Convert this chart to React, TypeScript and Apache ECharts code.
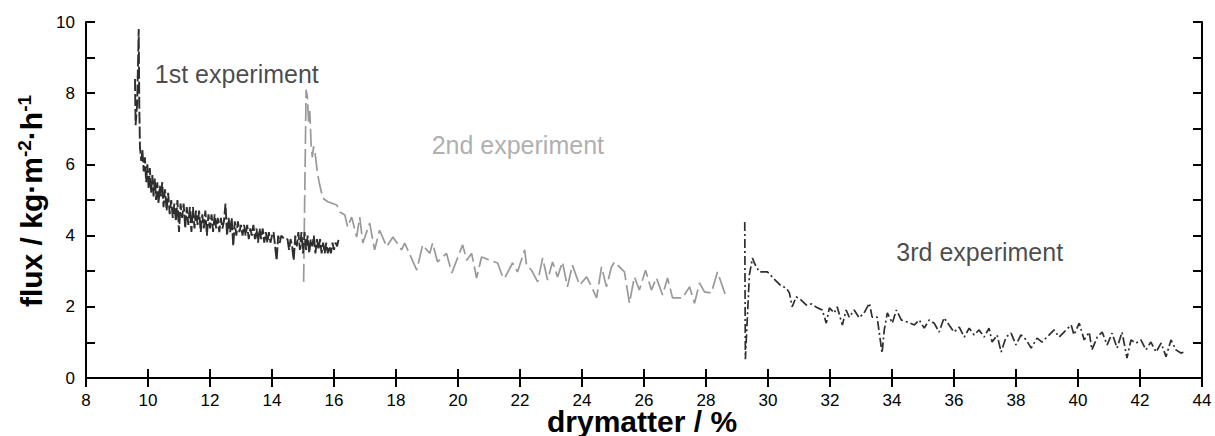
import React, { useEffect, useRef } from "react";
import * as echarts from "echarts";

const exp1: [number, number][] = [
  [9.58, 8.4], [9.6, 7.1], [9.65, 7.7], [9.68, 8.9], [9.7, 9.8], [9.72, 7.6], [9.74, 6.5],
  [9.78, 6.1], [9.82, 6.4], [9.86, 5.8], [9.9, 6.2], [9.94, 5.5], [9.98, 6.0], [10.02, 5.3],
  [10.06, 5.9], [10.1, 5.2], [10.14, 5.7], [10.18, 5.1], [10.22, 5.6], [10.26, 5.0], [10.3, 5.5],
  [10.34, 4.9], [10.38, 5.4], [10.42, 5.1], [10.46, 5.5], [10.5, 4.8], [10.55, 5.3], [10.6, 4.7],
  [10.65, 5.2], [10.7, 4.6], [10.75, 5.0], [10.8, 4.5], [10.85, 4.9], [10.9, 4.4], [10.95, 5.0],
  [11.0, 4.1], [11.05, 4.9], [11.1, 4.5], [11.15, 4.9], [11.2, 4.2], [11.25, 4.8], [11.3, 4.3],
  [11.35, 4.8], [11.4, 4.1], [11.45, 4.8], [11.5, 4.2], [11.55, 4.7], [11.6, 4.3], [11.65, 4.7],
  [11.7, 4.1], [11.75, 4.6], [11.8, 4.2], [11.85, 4.7], [11.9, 4.0], [11.95, 4.6], [12.0, 4.2],
  [12.05, 4.6], [12.1, 4.1], [12.15, 4.6], [12.2, 4.2], [12.25, 4.5], [12.3, 4.1], [12.35, 4.5],
  [12.4, 4.2], [12.45, 4.4], [12.5, 4.9], [12.55, 4.0], [12.6, 4.5], [12.65, 4.1], [12.7, 4.5],
  [12.75, 3.7], [12.8, 4.4], [12.85, 4.0], [12.9, 4.4], [12.95, 4.1], [13.0, 4.3], [13.05, 4.0],
  [13.1, 4.3], [13.15, 4.0], [13.2, 4.3], [13.25, 3.9], [13.3, 4.2], [13.35, 4.0], [13.4, 4.3],
  [13.45, 3.9], [13.5, 4.2], [13.55, 3.8], [13.6, 4.2], [13.65, 3.9], [13.7, 4.2], [13.75, 3.8],
  [13.8, 4.1], [13.85, 3.8], [13.9, 4.1], [13.95, 3.8], [14.0, 4.0], [14.05, 4.1], [14.1, 3.7],
  [14.15, 3.3], [14.2, 4.0], [14.25, 3.8], [14.3, 4.0], [14.4, 3.9], [14.5, 3.9], [14.55, 3.6],
  [14.6, 3.9], [14.65, 3.7], [14.7, 3.3], [14.75, 4.0], [14.8, 3.7], [14.85, 4.1], [14.9, 3.6],
  [14.95, 4.1], [15.0, 3.5], [15.05, 4.1], [15.1, 3.6], [15.15, 4.0], [15.2, 3.5], [15.25, 3.9],
  [15.3, 3.7], [15.35, 4.0], [15.4, 3.5], [15.45, 3.9], [15.5, 3.6], [15.55, 3.9], [15.6, 3.5],
  [15.65, 3.8], [15.7, 3.5], [15.75, 3.8], [15.8, 3.5], [15.85, 3.7], [15.9, 3.5], [15.95, 3.8],
  [16.0, 3.6], [16.05, 3.8], [16.1, 3.7], [16.15, 3.9], [16.2, 3.9],
];

const exp2: [number, number][] = [
  [15.02, 2.7], [15.1, 8.1], [15.14, 7.9], [15.18, 7.2], [15.22, 7.5], [15.26, 6.6], [15.3, 6.2],
  [15.34, 6.5], [15.38, 6.4], [15.46, 5.8], [15.52, 5.5], [15.64, 5.05], [15.8, 4.95],
  [16.09, 4.86], [16.19, 4.66], [16.35, 4.58], [16.44, 4.24], [16.57, 4.52], [16.73, 3.96],
  [16.83, 4.52], [16.93, 3.79], [17.15, 4.35], [17.31, 3.6], [17.47, 4.15], [17.7, 3.69],
  [17.9, 3.96], [18.18, 3.6], [18.28, 3.79], [18.67, 3.03], [18.86, 3.74], [19.09, 3.5],
  [19.18, 3.79], [19.34, 3.26], [19.63, 3.5], [19.8, 2.95], [20.15, 3.74], [20.28, 3.31],
  [20.44, 3.5], [20.6, 2.81], [20.76, 3.4], [21.02, 3.31], [21.28, 3.23], [21.44, 2.84],
  [21.5, 2.8], [21.76, 3.23], [21.92, 2.98], [22.15, 3.6], [22.21, 3.17], [22.37, 3.03],
  [22.57, 2.7], [22.73, 3.37], [22.89, 2.75], [23.05, 3.26], [23.21, 2.84], [23.37, 3.26],
  [23.53, 2.56], [23.69, 3.17], [23.92, 2.61], [24.15, 2.84], [24.31, 2.56], [24.47, 2.25],
  [24.63, 3.12], [24.79, 2.56], [24.95, 3.12], [25.05, 3.26], [25.37, 2.98], [25.53, 2.1],
  [25.69, 2.84], [25.85, 2.47], [26.05, 3.03], [26.24, 2.47], [26.4, 2.81], [26.6, 2.33],
  [26.76, 2.81], [26.92, 2.25], [27.24, 2.25], [27.47, 2.56], [27.63, 2.1], [27.79, 2.67],
  [27.95, 2.42], [28.17, 2.39], [28.37, 2.98], [28.66, 2.25],
];

const exp3: [number, number][] = [
  [29.25, 4.38], [29.27, 0.53], [29.4, 2.9], [29.5, 3.37], [29.56, 3.23], [29.72, 2.98],
  [29.98, 2.98], [30.2, 2.78], [30.43, 2.58], [30.59, 2.53], [30.69, 2.39], [30.78, 2.0],
  [30.91, 2.28], [31.07, 2.19], [31.24, 2.05], [31.4, 2.08], [31.6, 1.97], [31.75, 1.91],
  [31.88, 1.54], [31.98, 1.97], [32.14, 1.83], [32.23, 2.0], [32.4, 1.49], [32.52, 1.91],
  [32.62, 1.71], [32.78, 1.91], [32.94, 1.69], [33.1, 1.83], [33.27, 2.1], [33.36, 1.71],
  [33.52, 1.71], [33.68, 0.7], [33.75, 1.35], [33.85, 1.83], [34.01, 1.54], [34.14, 1.91],
  [34.3, 1.63], [34.5, 1.57], [34.72, 1.49], [34.88, 1.63], [35.04, 1.4], [35.2, 1.63],
  [35.36, 1.54], [35.52, 1.29], [35.68, 1.69], [35.84, 1.49], [36.0, 1.29], [36.17, 1.43],
  [36.33, 1.15], [36.49, 1.4], [36.65, 1.21], [36.81, 1.35], [36.97, 1.15], [37.13, 1.4],
  [37.23, 1.01], [37.39, 1.21], [37.52, 0.73], [37.68, 1.15], [37.84, 1.26], [38.0, 0.93],
  [38.16, 1.21], [38.33, 1.07], [38.49, 0.84], [38.68, 1.12], [38.84, 1.01], [39.0, 1.15],
  [39.23, 1.35], [39.39, 1.15], [39.55, 1.29], [39.78, 1.49], [39.87, 1.21], [40.04, 1.54],
  [40.2, 1.07], [40.36, 1.29], [40.45, 0.79], [40.62, 1.15], [40.78, 1.29], [40.94, 0.93],
  [41.1, 1.26], [41.26, 0.84], [41.42, 1.29], [41.58, 0.56], [41.71, 1.07], [41.87, 0.98],
  [42.03, 1.07], [42.19, 0.79], [42.35, 1.01], [42.52, 0.73], [42.68, 0.98], [42.84, 0.6],
  [43.0, 1.07], [43.16, 0.79], [43.32, 0.7], [43.42, 0.73],
];

const xRange = [8, 44];
const yRange = [0, 10];
const labels = [
  { text: "1st experiment", x: 10.22, y: 8.54, color: "#1a1a1a" },
  { text: "2nd experiment", x: 19.15, y: 6.54, color: "#9a9a9a" },
  { text: "3rd experiment", x: 34.14, y: 3.54, color: "#1a1a1a" },
];

const FONT = "'Liberation Sans', Arial, sans-serif";

export default function App() {
  const ref = useRef<HTMLDivElement>(null);
  useEffect(() => {
    if (!ref.current) return;
    const chart = echarts.init(ref.current, null, { renderer: "svg" });
    const axisLine = { show: true, lineStyle: { color: "#000", width: 2 } };
    const tick = { show: true, inside: true, length: 9, lineStyle: { color: "#000", width: 2 } };
    const minor = { show: true, splitNumber: 2, length: 9, lineStyle: { color: "#000", width: 2 } };
    const labelStyle = { color: "#000", fontSize: 17, fontFamily: FONT };
    const option: any = {
      animation: false,
      backgroundColor: "#fff",
      grid: { left: 86, right: 13, top: 22, bottom: 58, containLabel: false },
      xAxis: [
        {
          type: "value", min: xRange[0], max: xRange[1], interval: 2, position: "bottom",
          axisLine, axisTick: tick, splitLine: { show: false },
          axisLabel: { ...labelStyle, margin: 14 },
        },
        {
          type: "value", min: xRange[0], max: xRange[1], interval: 2, position: "top",
          axisLine, axisTick: tick, splitLine: { show: false }, axisLabel: { show: false },
        },
      ],
      yAxis: [
        {
          type: "value", min: yRange[0], max: yRange[1], interval: 2, position: "left",
          axisLine, axisTick: tick, minorTick: minor, splitLine: { show: false },
          axisLabel: { ...labelStyle, margin: 11 },
        },
        {
          type: "value", min: yRange[0], max: yRange[1], interval: 2, position: "right",
          axisLine, axisTick: tick, minorTick: minor, splitLine: { show: false },
          axisLabel: { show: false },
        },
      ],
      series: [
        {
          type: "line", data: exp1, symbol: "none", z: 3,
          lineStyle: { color: "#2e2e2e", width: 1.9, type: [12, 3] },
        },
        {
          type: "line", data: exp2, symbol: "none", z: 2,
          lineStyle: { color: "#999", width: 1.7, type: [18, 5] },
        },
        {
          type: "line", data: exp3, symbol: "none", z: 3,
          lineStyle: { color: "#2e2e2e", width: 1.7, type: [9, 3, 2, 3] },
        },
        {
          type: "scatter", symbolSize: 0, silent: true, z: 5,
          data: labels.map((l) => ({
            value: [l.x, l.y],
            label: {
              show: true, position: "right", distance: 0, formatter: l.text,
              color: l.color, fontSize: 25, fontFamily: FONT,
            },
          })),
        },
      ],
      graphic: [
        {
          type: "text", left: 547, top: 406, z: 10,
          style: {
            text: "drymatter / %", font: `bold 30px ${FONT}`, fill: "#000",
          },
        },
        {
          type: "text", x: 31, y: 201, rotation: Math.PI / 2, z: 10,
          style: {
            text: "{b|flux / kg·m}{s|-2}{b|·h}{s|-1}",
            align: "center", verticalAlign: "middle",
            rich: {
              b: { font: `bold 30px ${FONT}`, fill: "#000" },
              s: { font: `bold 19px ${FONT}`, fill: "#000", padding: [0, 0, 14, 0] },
            },
          },
        },
      ],
    };
    chart.setOption(option);
    return () => chart.dispose();
  }, []);
  return (
    <div
      ref={ref}
      style={{ position: "fixed", left: 0, top: 0, width: 1215, height: 436, background: "#fff" }}
    />
  );
}
